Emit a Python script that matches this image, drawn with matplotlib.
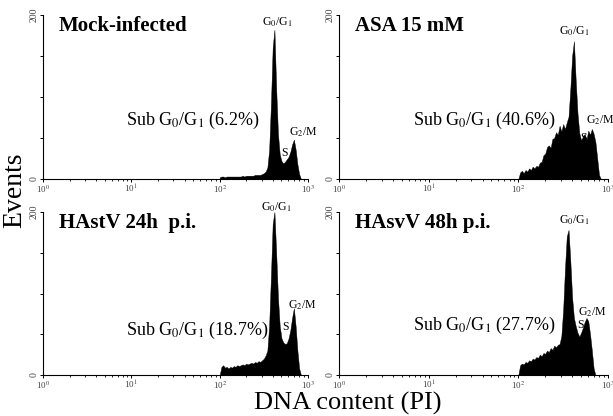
import numpy as np
import matplotlib.pyplot as plt

plt.rcParams['font.family'] = ['Liberation Serif', 'DejaVu Serif']
plt.rcParams['mathtext.fontset'] = 'stix'

# log10 of PI channel, one bin every 0.02 decade from 10^2
log_channel = np.round(np.arange(2.0, 2.93, 0.02), 2)

mock_counts = [2, 3, 3, 2, 3, 3, 3, 3, 3, 3, 3, 3, 3, 4, 3, 4, 4, 4, 4, 4,
               5, 5, 5, 5, 6, 7, 9, 14, 35, 90, 160, 182, 110, 55, 30, 22, 19,
               21, 24, 27, 33, 42, 48, 36, 18, 6, 0]
asa_counts = [0, 8, 10, 7, 11, 9, 13, 11, 15, 13, 16, 15, 20, 21, 29, 31, 39,
              41, 38, 49, 50, 57, 54, 65, 58, 67, 61, 69, 76, 110, 150, 168,
              120, 80, 56, 47, 52, 55, 48, 59, 54, 61, 55, 45, 25, 5, 0]
hastv24_counts = [0, 10, 12, 9, 10, 8, 10, 9, 11, 10, 12, 11, 12, 13, 12, 14,
                  13, 14, 15, 14, 16, 15, 17, 16, 18, 20, 24, 30, 60, 120, 185,
                  200, 150, 95, 60, 45, 40, 38, 39, 45, 55, 70, 82, 60, 30, 8, 0]
hastv48_counts = [0, 12, 14, 13, 16, 15, 18, 17, 20, 19, 22, 21, 25, 23, 27,
                  26, 30, 28, 33, 31, 36, 34, 37, 38, 48, 80, 130, 170, 178, 140,
                  95, 70, 60, 52, 47, 52, 58, 65, 70, 66, 50, 30, 8, 0, 0, 0, 0]

titles = ['Mock-infected', 'ASA 15 mM', 'HAstV 24h  p.i.', 'HAsvV 48h p.i.']
sub_pct = ['6.2%', '40.6%', '18.7%', '27.7%']
counts = [mock_counts, asa_counts, hastv24_counts, hastv48_counts]

# label anchors (log10 x, events)
sub_pos = [(0.94, 72), (0.82, 72), (0.94, 55), (0.82, 61)]
g1_pos = [(2.65, 191), (2.62, 180), (2.64, 206), (2.62, 190)]
g2_pos = [(2.79, 57), (2.75, 72), (2.77, 86), (2.66, 77)]
s_pos = [(2.73, 32), (2.73, 50), (2.75, 59), (2.69, 61)]

fig = plt.figure(figsize=(6.13, 4.16), dpi=100)
boxes = [[43, 15, 265, 164], [339, 15, 269, 164],
         [43, 212, 265, 163], [339, 212, 269, 163]]

for i in range(4):
    l, t, w, h = boxes[i]
    ax = fig.add_axes([l / 613, 1 - (t + h) / 416, w / 613, h / 416])
    ax.fill_between(10 ** log_channel, counts[i], color='black', lw=0.3,
                    edgecolor='black')
    ax.set_xscale('log')
    ax.set_xlim(1, 1000)
    ax.set_ylim(0, 200)
    ax.spines['top'].set_visible(False)
    ax.spines['right'].set_visible(False)
    ax.spines['left'].set_linewidth(0.8)
    ax.spines['bottom'].set_linewidth(0.8)
    ax.set_xticks([1, 10, 100, 1000])
    ax.set_xticklabels([r'10$^0$', r'10$^1$', r'10$^2$', r'10$^3$'],
                       fontsize=6.5, color='#444444')
    ax.set_yticks([0, 50, 100, 150, 200])
    ax.set_yticklabels(['0', '', '', '', '200'], rotation=90, va='center',
                       fontsize=7, color='#444444')
    ax.tick_params(axis='both', which='major', length=2.5, width=0.7, pad=0.5)
    ax.tick_params(axis='x', which='minor', length=1.5, width=0.6)
    ax.tick_params(axis='x', which='minor', labelbottom=False)

    ax.text(0.06, 0.93, titles[i], transform=ax.transAxes, fontsize=15,
            fontweight='bold', va='center', ha='left')
    sx, sy = sub_pos[i]
    ax.text(10 ** sx, sy, r'Sub G$_0$/G$_1$ (' + sub_pct[i] + ')', fontsize=13,
            va='center', ha='left')
    gx, gy = g1_pos[i]
    ax.text(10 ** gx, gy, r'G$_0$/G$_1$', fontsize=8.5, va='center', ha='center')
    gx, gy = g2_pos[i]
    ax.text(10 ** gx, gy, r'G$_2$/M', fontsize=8.5, va='center', ha='left')
    gx, gy = s_pos[i]
    ax.text(10 ** gx, gy, 'S', fontsize=8.5, va='center', ha='center')

fig.text(0.024, 0.543, 'Events', rotation=90, fontsize=20, va='center', ha='center')
fig.text(0.567, 0.029, 'DNA content (PI)', fontsize=19, va='center', ha='center')

fig.savefig('out.png', dpi=100)
